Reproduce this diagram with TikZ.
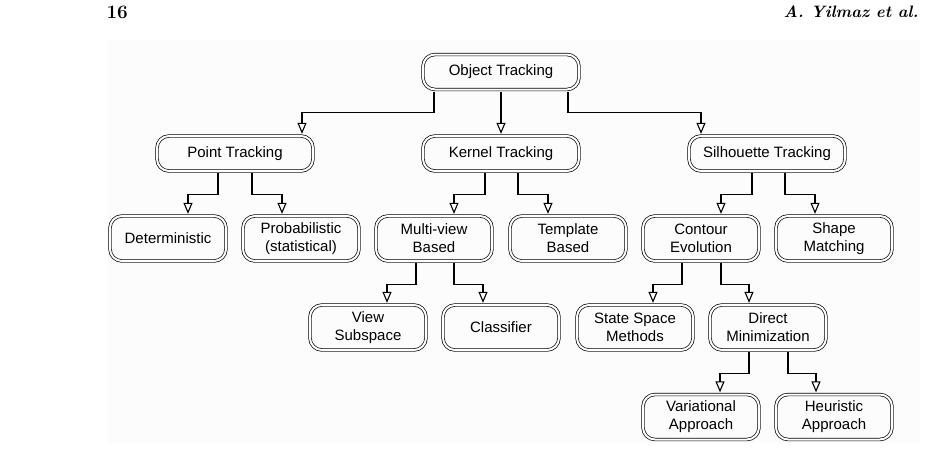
\documentclass[tikz,border=0pt]{standalone}
\usepackage{fontspec}
\newfontfamily\boxfont{Liberation Sans}
\usetikzlibrary{arrows.meta}
\definecolor{pagebg}{RGB}{252,252,252}

\begin{document}
\begin{tikzpicture}[x=1pt, y=-1pt,
    >={Triangle[open, length=11pt, width=9pt]},
    box/.style={draw, double, double distance=2pt, line width=0.7pt,
        rounded corners=12pt, minimum width=116pt, minimum height=45pt,
        inner sep=0pt, align=center, font=\boxfont\fontsize{15}{18}\selectfont},
    widebox/.style={box, minimum width=156pt, minimum height=35pt},
    link/.style={->, line width=1.1pt, shorten <=1.8pt, shorten >=1.8pt}]
    \useasboundingbox (0, 0) rectangle (944, 455);
    % page head
    \fill [pagebg] (107, 40) rectangle (920, 443);
    \node (pageno) [anchor=west, font=\fontsize{19}{20}\selectfont\bfseries] at (103, 12) {16};
    \node (runhead) [anchor=east, font=\fontsize{16.5}{18}\selectfont\bfseries\itshape] at (922, 12) {A. Yilmaz et al.};

    % top levels
    \draw
        node (ot) [widebox] at (501, 72) {Object Tracking}
        node (pt) [widebox] at (235, 153.5) {Point Tracking}
        node (kt) [widebox] at (501, 153.5) {Kernel Tracking}
        node (st) [widebox] at (767, 153.5) {Silhouette Tracking}
    ;
    % row 2
    \draw
        node (det) [box] at (168, 238.5) {Deterministic}
        node (prob) [box] at (301, 238.5) {Probabilistic\\(statistical)}
        node (mv) [box] at (434, 238.5) {Multi-view\\Based}
        node (tb) [box] at (568, 238.5) {Template\\Based}
        node (ce) [box] at (701, 238.5) {Contour\\Evolution}
        node (sm) [box] at (834, 238.5) {Shape\\Matching}
    ;
    % row 3
    \draw
        node (vs) [box] at (368, 327.5) {View\\Subspace}
        node (cl) [box] at (501, 327.5) {Classifier}
        node (ss) [box] at (635, 327.5) {State Space\\Methods}
        node (dm) [box] at (768, 327.5) {Direct\\Minimization}
    ;
    % row 4
    \draw
        node (va) [box] at (701, 417) {Variational\\Approach}
        node (ha) [box] at (834, 417) {Heuristic\\Approach}
    ;

    %% links
    \draw [link] (ot) -- (kt);
    \foreach \a/\da/\b/\db in {ot/-67/pt/67, ot/67/st/-66,
            pt/-17/det/20, pt/17/prob/-19, kt/-16/mv/20, kt/17/tb/-20,
            st/-15/ce/20, st/18/sm/-19,
            mv/-18/vs/19, mv/20/cl/-18, ce/-19/ss/18, ce/20/dm/-19,
            dm/-19/va/19, dm/20/ha/-18} {
        \draw [link]
            ([xshift=\da pt]\a.south) --++ (0, 23) -| ([xshift=\db pt]\b.north)
        ;
    }
\end{tikzpicture}
\end{document}
